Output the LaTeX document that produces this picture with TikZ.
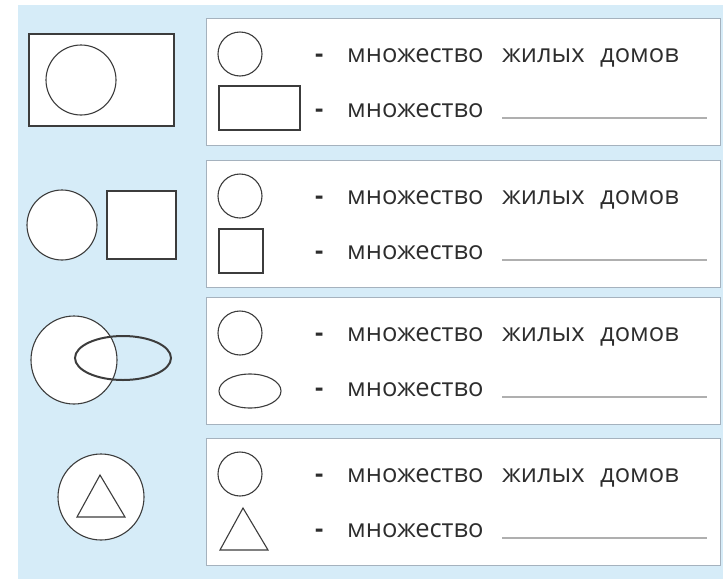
\documentclass[tikz,border=0pt]{standalone}
\usepackage{fontspec}
\setmainfont{Open Sans}
\usepackage{xcolor}
\usepackage{tikz}
\usetikzlibrary{positioning}

\definecolor{skyback}{RGB}{214,236,248}
\definecolor{panelrim}{RGB}{165,178,190}
\definecolor{inkgray}{RGB}{60,60,60}
\definecolor{textgray}{RGB}{45,45,45}
\definecolor{blankgray}{RGB}{175,175,175}

\tikzset{
    figline/.style={draw=inkgray, line width=1.1pt, fill=white},
    panelbox/.style={draw=panelrim, line width=0.8pt, fill=white},
    wordlbl/.style={anchor=base west, inner sep=0pt, text=textgray,
        font=\fontsize{25.5}{30}\selectfont},
    blankline/.style={draw=blankgray, line width=1.2pt}
}

\begin{document}
\begin{tikzpicture}[x=1pt, y=-1pt]
    \useasboundingbox (0,0) rectangle (723,579);
    \fill[skyback] (18,5) rectangle (723,579);

    % left column: the four pictures
    \draw[figline, line width=1.4pt] (29,34) rectangle (174,126);
    \draw[figline] (81,80) circle (35);

    \draw[figline] (62,225) circle (35);
    \draw[figline] (107,191) rectangle (176,259);

    \draw[figline] (74,360) ellipse (43 and 44);
    \draw[inkgray, line width=2pt] (123,358) ellipse (48 and 22);

    \draw[figline] (101,497) circle (43);
    \draw[figline] (100,475) -- (125,517) -- (77,517) -- cycle;

    % right column: the legend panels
    \foreach \i/\top in {1/18, 2/160, 3/297, 4/438} {
        \draw[panelbox] (206,\top) rectangle (720,\top+127);
        \draw[figline] (240,\top+36) circle (22);
        \node[wordlbl] (dashA\i) at (315,\top+44) {\textbf{-}};
        \node[wordlbl] (setA\i) at (347,\top+44) {множество};
        \node[wordlbl] (liveA\i) at (502,\top+44) {жилых};
        \node[wordlbl] (homeA\i) at (600,\top+44) {домов};
        \node[wordlbl] (dashB\i) at (315,\top+99) {\textbf{-}};
        \node[wordlbl] (setB\i) at (347,\top+99) {множество};
        \coordinate (blankS\i) at (502,\top+100);
        \coordinate (blankE\i) at (707,\top+100);
        \draw[blankline] (blankS\i) -- (blankE\i);
    }

    % second shape of each legend
    \draw[figline] (219,86) rectangle (300,130);
    \draw[figline] (219,229) rectangle (263,273);
    \draw[figline] (250,391) ellipse (31 and 17);
    \draw[figline] (243,508) -- (268,550) -- (220,550) -- cycle;
\end{tikzpicture}
\end{document}
